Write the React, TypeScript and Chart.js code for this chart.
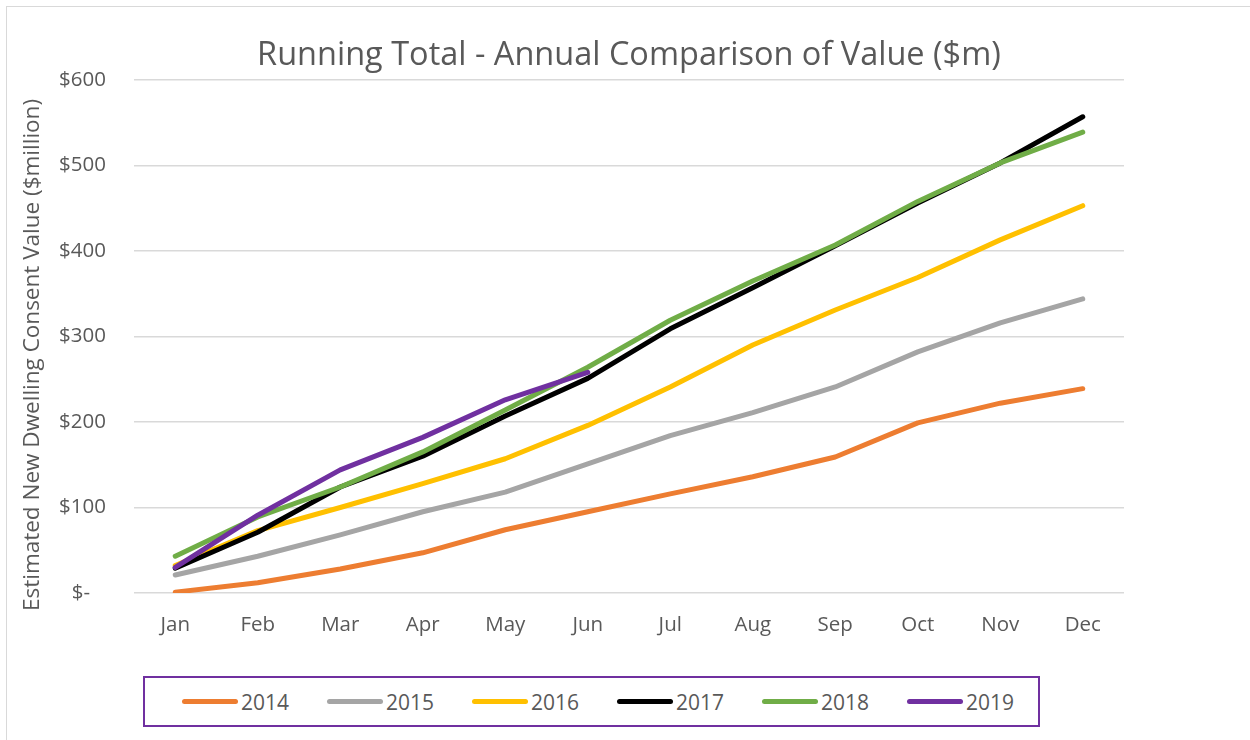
import React, { useEffect, useRef } from "react";
import { Chart, registerables } from "chart.js";

Chart.register(...registerables);

const months = ["Jan", "Feb", "Mar", "Apr", "May", "Jun", "Jul", "Aug", "Sep", "Oct", "Nov", "Dec"];
const seriesNames = ["2014", "2015", "2016", "2017", "2018", "2019"];
const seriesColors = ["#ed7d31", "#a5a5a5", "#ffc000", "#000000", "#70ad47", "#7030a0"];

const v2014 = [1, 12, 28, 47, 74, 95, 116, 136, 159, 199, 222, 239];
const v2015 = [21, 43, 68, 95, 118, 151, 184, 211, 241, 282, 316, 344];
const v2016 = [32, 73, 100, 128, 157, 196, 241, 290, 331, 369, 413, 453];
const v2017 = [29, 71, 124, 160, 207, 251, 309, 357, 406, 456, 503, 557];
const v2018 = [43, 89, 124, 165, 214, 264, 319, 365, 407, 458, 503, 539];
const v2019 = [30, 91, 144, 182, 226, 258];

const seriesValues = [v2014, v2015, v2016, v2017, v2018, v2019];

const titleText = "Running Total - Annual Comparison of Value ($m)";
const yAxisTitle = "Estimated New Dwelling Consent Value ($million)";

const FONT = "'Open Sans', 'Liberation Sans', sans-serif";
const TEXT_COLOR = "#595959";

const textPlugin = {
  id: "customText",
  afterDraw(chart: any) {
    const ctx = chart.ctx;
    const area = chart.chartArea;
    ctx.save();
    ctx.fillStyle = TEXT_COLOR;
    ctx.font = `32.5px ${FONT}`;
    ctx.textAlign = "center";
    ctx.textBaseline = "middle";
    ctx.fillText(titleText, (area.left + area.right) / 2, 56);
    ctx.translate(33, 355);
    ctx.rotate(-Math.PI / 2);
    ctx.font = `22.5px ${FONT}`;
    ctx.fillText(yAxisTitle, 0, 0);
    ctx.restore();
  },
};

export default function App() {
  const ref = useRef<HTMLCanvasElement | null>(null);

  useEffect(() => {
    if (!ref.current) return;
    const chart = new Chart(ref.current, {
      type: "line",
      data: {
        labels: months,
        datasets: seriesNames.map((name, i) => ({
          label: name,
          data: seriesValues[i],
          borderColor: seriesColors[i],
          backgroundColor: seriesColors[i],
          borderWidth: 5,
          borderCapStyle: "round" as const,
          borderJoinStyle: "round" as const,
          pointRadius: 0,
          tension: 0,
          order: seriesNames.length - 1 - i,
        })),
      },
      options: {
        animation: false,
        responsive: false,
        maintainAspectRatio: false,
        layout: { padding: { left: 58, right: 126, top: 80, bottom: 0 } },
        plugins: {
          legend: { display: false },
          title: { display: false },
          tooltip: { enabled: false },
        },
        scales: {
          x: {
            offset: true,
            grid: { display: false, drawTicks: false },
            border: { display: false },
            ticks: {
              color: TEXT_COLOR,
              font: { family: FONT, size: 20.5 },
              padding: 20,
              maxRotation: 0,
            },
            afterFit(scale: any) {
              scale.height = 147;
            },
          },
          y: {
            min: 0,
            max: 600,
            grid: { color: "#d9d9d9", lineWidth: 1.5, drawTicks: false },
            border: { display: false },
            ticks: {
              stepSize: 100,
              color: TEXT_COLOR,
              font: { family: FONT, size: 20.5 },
              padding: 28,
              callback: (v: any) => (Number(v) === 0 ? "$-   " : "$" + v),
            },
            afterFit(scale: any) {
              scale.width = 76;
            },
          },
        },
      },
      plugins: [textPlugin],
    });
    return () => chart.destroy();
  }, []);

  return (
    <div
      style={{
        position: "fixed",
        left: 0,
        top: 0,
        width: 1250,
        height: 740,
        overflow: "hidden",
        background: "#ffffff",
      }}
    >
      <div
        style={{
          position: "absolute",
          left: 6,
          top: 6,
          width: 1300,
          height: 800,
          border: "1.5px solid #d9d9d9",
        }}
      />
      <canvas ref={ref} width={1250} height={740} style={{ position: "absolute", left: 0, top: 0 }} />
      <div
        style={{
          position: "absolute",
          left: 143,
          top: 676,
          width: 893,
          height: 47,
          border: "2px solid #7030a0",
          background: "#ffffff",
        }}
      >
        {seriesNames.map((name, i) => (
          <div
            key={name}
            style={{
              position: "absolute",
              left: 37 + i * 145,
              top: 0,
              height: 47,
              display: "flex",
              alignItems: "center",
            }}
          >
            <div
              style={{
                width: 56,
                height: 5,
                borderRadius: 3,
                background: seriesColors[i],
                marginRight: 3,
              }}
            />
            <span style={{ fontFamily: FONT, fontSize: 21, color: TEXT_COLOR }}>{name}</span>
          </div>
        ))}
      </div>
    </div>
  );
}
